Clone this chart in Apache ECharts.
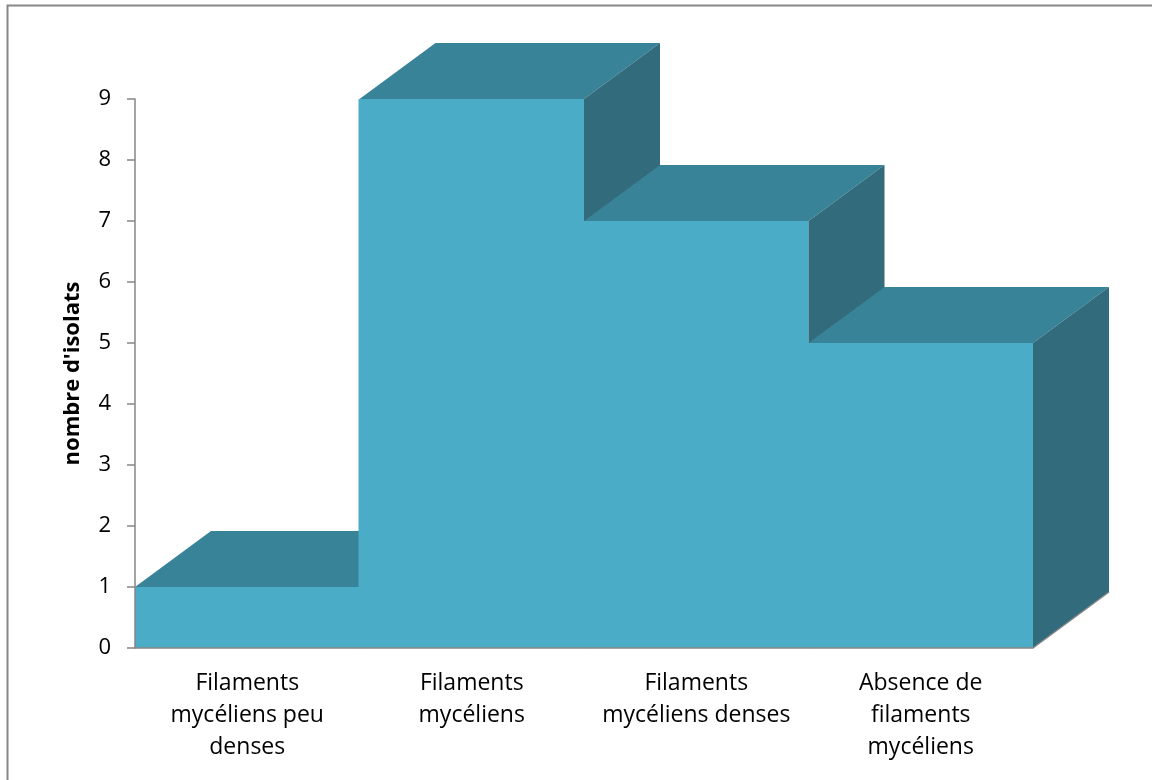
<!DOCTYPE html>
<html>
<head>
<meta charset="utf-8">
<script src="https://cdn.jsdelivr.net/npm/echarts@6/dist/echarts.min.js"></script>
<style>html,body{margin:0;padding:0;background:#fff}#c{width:1152px;height:780px}</style>
</head>
<body>
<div id="c"></div>
<script>
var categories = ['Filaments\nmycéliens peu\ndenses', 'Filaments\nmycéliens', 'Filaments\nmycéliens denses', 'Absence de\nfilaments\nmycéliens'];
var values = [1, 9, 7, 5];
var yTicks = [0, 1, 2, 3, 4, 5, 6, 7, 8, 9];

var DX = 76, DY = -56;
var FRONT = '#4AACC7', TOP = '#388397', SIDE = '#316B7C';
var FONT = 'Open Sans';

var chart = echarts.init(document.getElementById('c'), null, {renderer: 'canvas'});
chart.setOption({
  animation: false,
  backgroundColor: '#fff',
  textStyle: {fontFamily: FONT},
  graphic: [{
    type: 'rect', left: 5, top: 3, shape: {width: 1170, height: 800},
    style: {fill: 'none', stroke: '#878787', lineWidth: 2}, z: 10
  }],
  grid: {left: 135, right: 119, top: 99, bottom: 132},
  xAxis: {
    type: 'category', data: categories, z: 5,
    axisLine: {show: true, lineStyle: {color: '#868686', width: 1.5}},
    axisTick: {show: false},
    axisLabel: {color: '#000', fontSize: 23, fontFamily: FONT, lineHeight: 32, margin: 19, interval: 0}
  },
  yAxis: {
    type: 'value', min: yTicks[0], max: yTicks[yTicks.length - 1], interval: 1, z: 5,
    name: "nombre d'isolats", nameLocation: 'middle', nameGap: 51,
    nameTextStyle: {color: '#000', fontSize: 22, fontWeight: 'bold', fontFamily: FONT},
    axisLine: {show: true, lineStyle: {color: '#868686', width: 1.5}},
    axisTick: {show: true, length: 8, lineStyle: {color: '#868686', width: 1.5}},
    axisLabel: {color: '#000', fontSize: 22, fontFamily: FONT, margin: 24},
    splitLine: {show: false}
  },
  series: [{
    type: 'custom',
    data: values.map(function (v, i) { return [i, v]; }),
    encode: {x: 0, y: 1},
    renderItem: function (params, api) {
      var i = api.value(0), v = api.value(1);
      var top = api.coord([i, v]);
      var base = api.coord([i, 0]);
      var bw = api.size([1, 0])[0];
      var x0 = top[0] - bw / 2, x1 = top[0] + bw / 2;
      var yt = top[1], yb = base[1];
      var ov = i > 0 ? 1 : 0;
      var children = [
        {type: 'rect', shape: {x: x0 - ov, y: yt, width: bw + ov, height: yb - yt}, style: {fill: FRONT}},
        {type: 'polygon', shape: {points: [[x0, yt], [x0 + DX, yt + DY], [x1 + DX, yt + DY], [x1, yt]]}, style: {fill: TOP}},
        {type: 'polygon', shape: {points: [[x1, yt], [x1 + DX, yt + DY], [x1 + DX, yb + DY], [x1, yb]]}, style: {fill: SIDE}},
        {type: 'line', shape: {x1: x1, y1: yb, x2: x1 + DX, y2: yb + DY}, style: {stroke: '#868686', lineWidth: 1.5}}
      ];
      return {type: 'group', children: children};
    }
  }]
});
</script>
</body>
</html>
